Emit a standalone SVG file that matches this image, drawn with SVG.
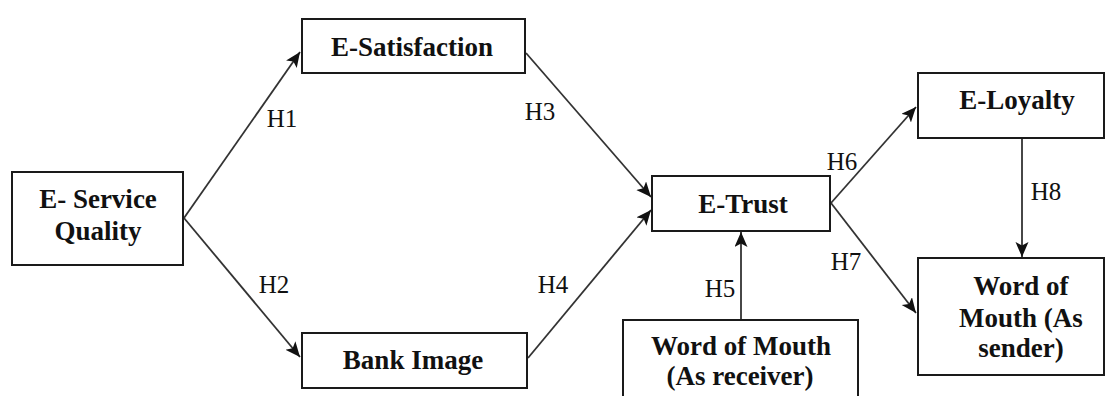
<svg xmlns="http://www.w3.org/2000/svg" width="1113" height="396" viewBox="0 0 1113 396">
<style>
.box{fill:#fff;stroke:#1a1a1a;stroke-width:2}
.nt{font-family:'Liberation Serif','Times New Roman',Times,'DejaVu Serif','Noto Serif',serif;font-weight:bold;font-size:27px;fill:#111;text-anchor:middle}
.lb{font-family:'Liberation Serif','Times New Roman',Times,'DejaVu Serif','Noto Serif',serif;font-size:25px;fill:#111;text-anchor:middle}
.cn{stroke:#333;stroke-width:1.8;fill:none;marker-end:url(#ah)}
</style>
<defs>
<marker id="ah" markerUnits="userSpaceOnUse" markerWidth="16" markerHeight="14" refX="15" refY="6.5" orient="auto">
<path d="M0,0 L15,6.5 L0,13 L3.5,6.5 z" fill="#111"/>
</marker>
</defs>
<rect width="1113" height="396" fill="#fff"/>
<g id="connectors">
<line class="cn" x1="184" y1="218" x2="300" y2="52"/>
<line class="cn" x1="184" y1="218" x2="300" y2="357"/>
<line class="cn" x1="526" y1="53" x2="651" y2="197"/>
<line class="cn" x1="528" y1="358" x2="651" y2="210"/>
<line class="cn" x1="741" y1="320" x2="741" y2="232"/>
<line class="cn" x1="831" y1="203" x2="916" y2="107"/>
<line class="cn" x1="831" y1="203" x2="916" y2="313"/>
<line class="cn" x1="1022" y1="138" x2="1022" y2="257"/>
<text class="lb" x="282" y="127">H1</text>
<text class="lb" x="274" y="293">H2</text>
<text class="lb" x="540" y="120">H3</text>
<text class="lb" x="553" y="293">H4</text>
<text class="lb" x="720" y="297">H5</text>
<text class="lb" x="842" y="170">H6</text>
<text class="lb" x="846" y="270">H7</text>
<text class="lb" x="1046" y="200">H8</text>
</g>
<g id="e-service-quality">
<rect class="box" x="12" y="172" width="171" height="93"/>
<text class="nt" x="98" y="208">E- Service</text>
<text class="nt" x="98" y="240">Quality</text>
</g>
<g id="e-satisfaction">
<rect class="box" x="302" y="19" width="223" height="54"/>
<text class="nt" x="412" y="56">E-Satisfaction</text>
</g>
<g id="bank-image">
<rect class="box" x="302" y="333" width="225" height="55"/>
<text class="nt" x="413" y="369">Bank Image</text>
</g>
<g id="e-trust">
<rect class="box" x="652" y="176" width="178" height="55"/>
<text class="nt" x="743" y="213">E-Trust</text>
</g>
<g id="wom-receiver">
<rect class="box" x="623" y="320" width="235" height="90"/>
<text class="nt" x="741" y="355">Word of Mouth</text>
<text class="nt" x="740" y="385">(As receiver)</text>
</g>
<g id="e-loyalty">
<rect class="box" x="918" y="73" width="186" height="65"/>
<text class="nt" x="1017" y="109">E-Loyalty</text>
</g>
<g id="wom-sender">
<rect class="box" x="918" y="258" width="186" height="117"/>
<text class="nt" x="1021" y="295">Word of</text>
<text class="nt" x="1021" y="327">Mouth (As</text>
<text class="nt" x="1021" y="357">sender)</text>
</g>
</svg>
